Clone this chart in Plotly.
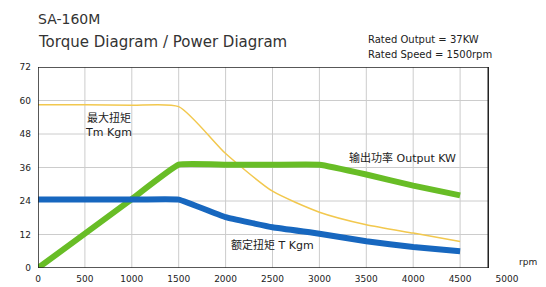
import plotly.graph_objects as go

speed = [0, 500, 1000, 1500, 2000, 2500, 3000, 3500, 4000, 4500]
max_torque = [58.5, 58.5, 58.3, 57.8, 41, 27.5, 20, 15.5, 12.5, 9.5]
output_kw = [0, 12.3, 24.7, 37, 37, 37, 37, 33.5, 29.5, 26]
rated_torque = [24.5, 24.5, 24.5, 24.5, 18.2, 14.6, 12.3, 9.6, 7.5, 6]

x_ticks = [0, 500, 1000, 1500, 2000, 2500, 3000, 3500, 4000, 4500, 5000]
y_ticks = [0, 12, 24, 36, 48, 60, 72]
frame_x = 4800
frame_y = 72

fig = go.Figure()
fig.add_trace(go.Scatter(x=speed, y=max_torque, mode="lines",
                         line=dict(color="#f2c84e", width=1.5, shape="spline", smoothing=0.6),
                         hoverinfo="skip"))
fig.add_trace(go.Scatter(x=speed, y=output_kw, mode="lines",
                         line=dict(color="#68bd26", width=6, shape="spline", smoothing=0.3),
                         hoverinfo="skip"))
fig.add_trace(go.Scatter(x=speed, y=rated_torque, mode="lines",
                         line=dict(color="#1767bf", width=6, shape="spline", smoothing=0.3),
                         hoverinfo="skip"))

shapes = []
for xv in x_ticks[1:]:
    if xv < frame_x:
        shapes.append(dict(type="line", xref="x", yref="y", x0=xv, x1=xv, y0=0, y1=frame_y,
                           line=dict(color="#cccccc", width=1), layer="below"))
for yv in y_ticks[1:-1]:
    shapes.append(dict(type="line", xref="x", yref="y", x0=0, x1=frame_x, y0=yv, y1=yv,
                       line=dict(color="#cccccc", width=1), layer="below"))
shapes.append(dict(type="rect", xref="x", yref="y", x0=0, x1=frame_x, y0=0, y1=frame_y,
                   line=dict(color="#222222", width=1.5), layer="above"))

font = "DejaVu Sans, Noto Sans CJK SC, sans-serif"
annotations = [
    dict(text="SA-160M", xref="paper", yref="paper", x=-0.004, y=1.239,
         xanchor="left", yanchor="middle", showarrow=False, font=dict(size=14, color="#333")),
    dict(text="Torque Diagram / Power Diagram", xref="paper", yref="paper", x=-0.004, y=1.124,
         xanchor="left", yanchor="middle", showarrow=False, font=dict(size=15, color="#333")),
    dict(text="Rated Output = 37KW", xref="paper", yref="paper",
         x=0.70, y=1.139, xanchor="left", yanchor="middle", align="left",
         showarrow=False, font=dict(size=10, color="#222")),
    dict(text="Rated Speed = 1500rpm", xref="paper", yref="paper",
         x=0.70, y=1.064, xanchor="left", yanchor="middle", align="left",
         showarrow=False, font=dict(size=10, color="#222")),
    dict(text="最大扭矩<br>Tm Kgm", xref="x", yref="y", x=750, y=51.4, showarrow=False,
         font=dict(size=11, color="#222")),
    dict(text="输出功率 Output KW", xref="x", yref="y", x=3890, y=39.4, showarrow=False,
         font=dict(size=11, color="#222")),
    dict(text="额定扭矩 T Kgm", xref="x", yref="y", x=2500, y=8.2, showarrow=False,
         font=dict(size=11, color="#222")),
    dict(text="rpm", xref="paper", yref="y", x=1.045, y=2.2, xanchor="center", showarrow=False,
         font=dict(size=9, color="#222")),
]

fig.update_layout(
    width=546, height=287,
    margin=dict(l=30, r=47, t=59, b=27, autoexpand=False),
    paper_bgcolor="white", plot_bgcolor="white",
    showlegend=False,
    font=dict(family=font, size=9, color="#222"),
    shapes=shapes, annotations=annotations,
    xaxis=dict(range=[0, 5000], tickvals=x_ticks, ticktext=[str(v) for v in x_ticks],
               showgrid=False, zeroline=False, showline=False, ticks="", tickfont=dict(size=9),
               automargin=False, ticklabelstandoff=4),
    yaxis=dict(range=[0, 72], tickvals=y_ticks, showgrid=False, zeroline=False,
               showline=False, ticks="", tickfont=dict(size=9), automargin=False,
               ticklabelstandoff=6),
)

fig.write_html("out.html")
